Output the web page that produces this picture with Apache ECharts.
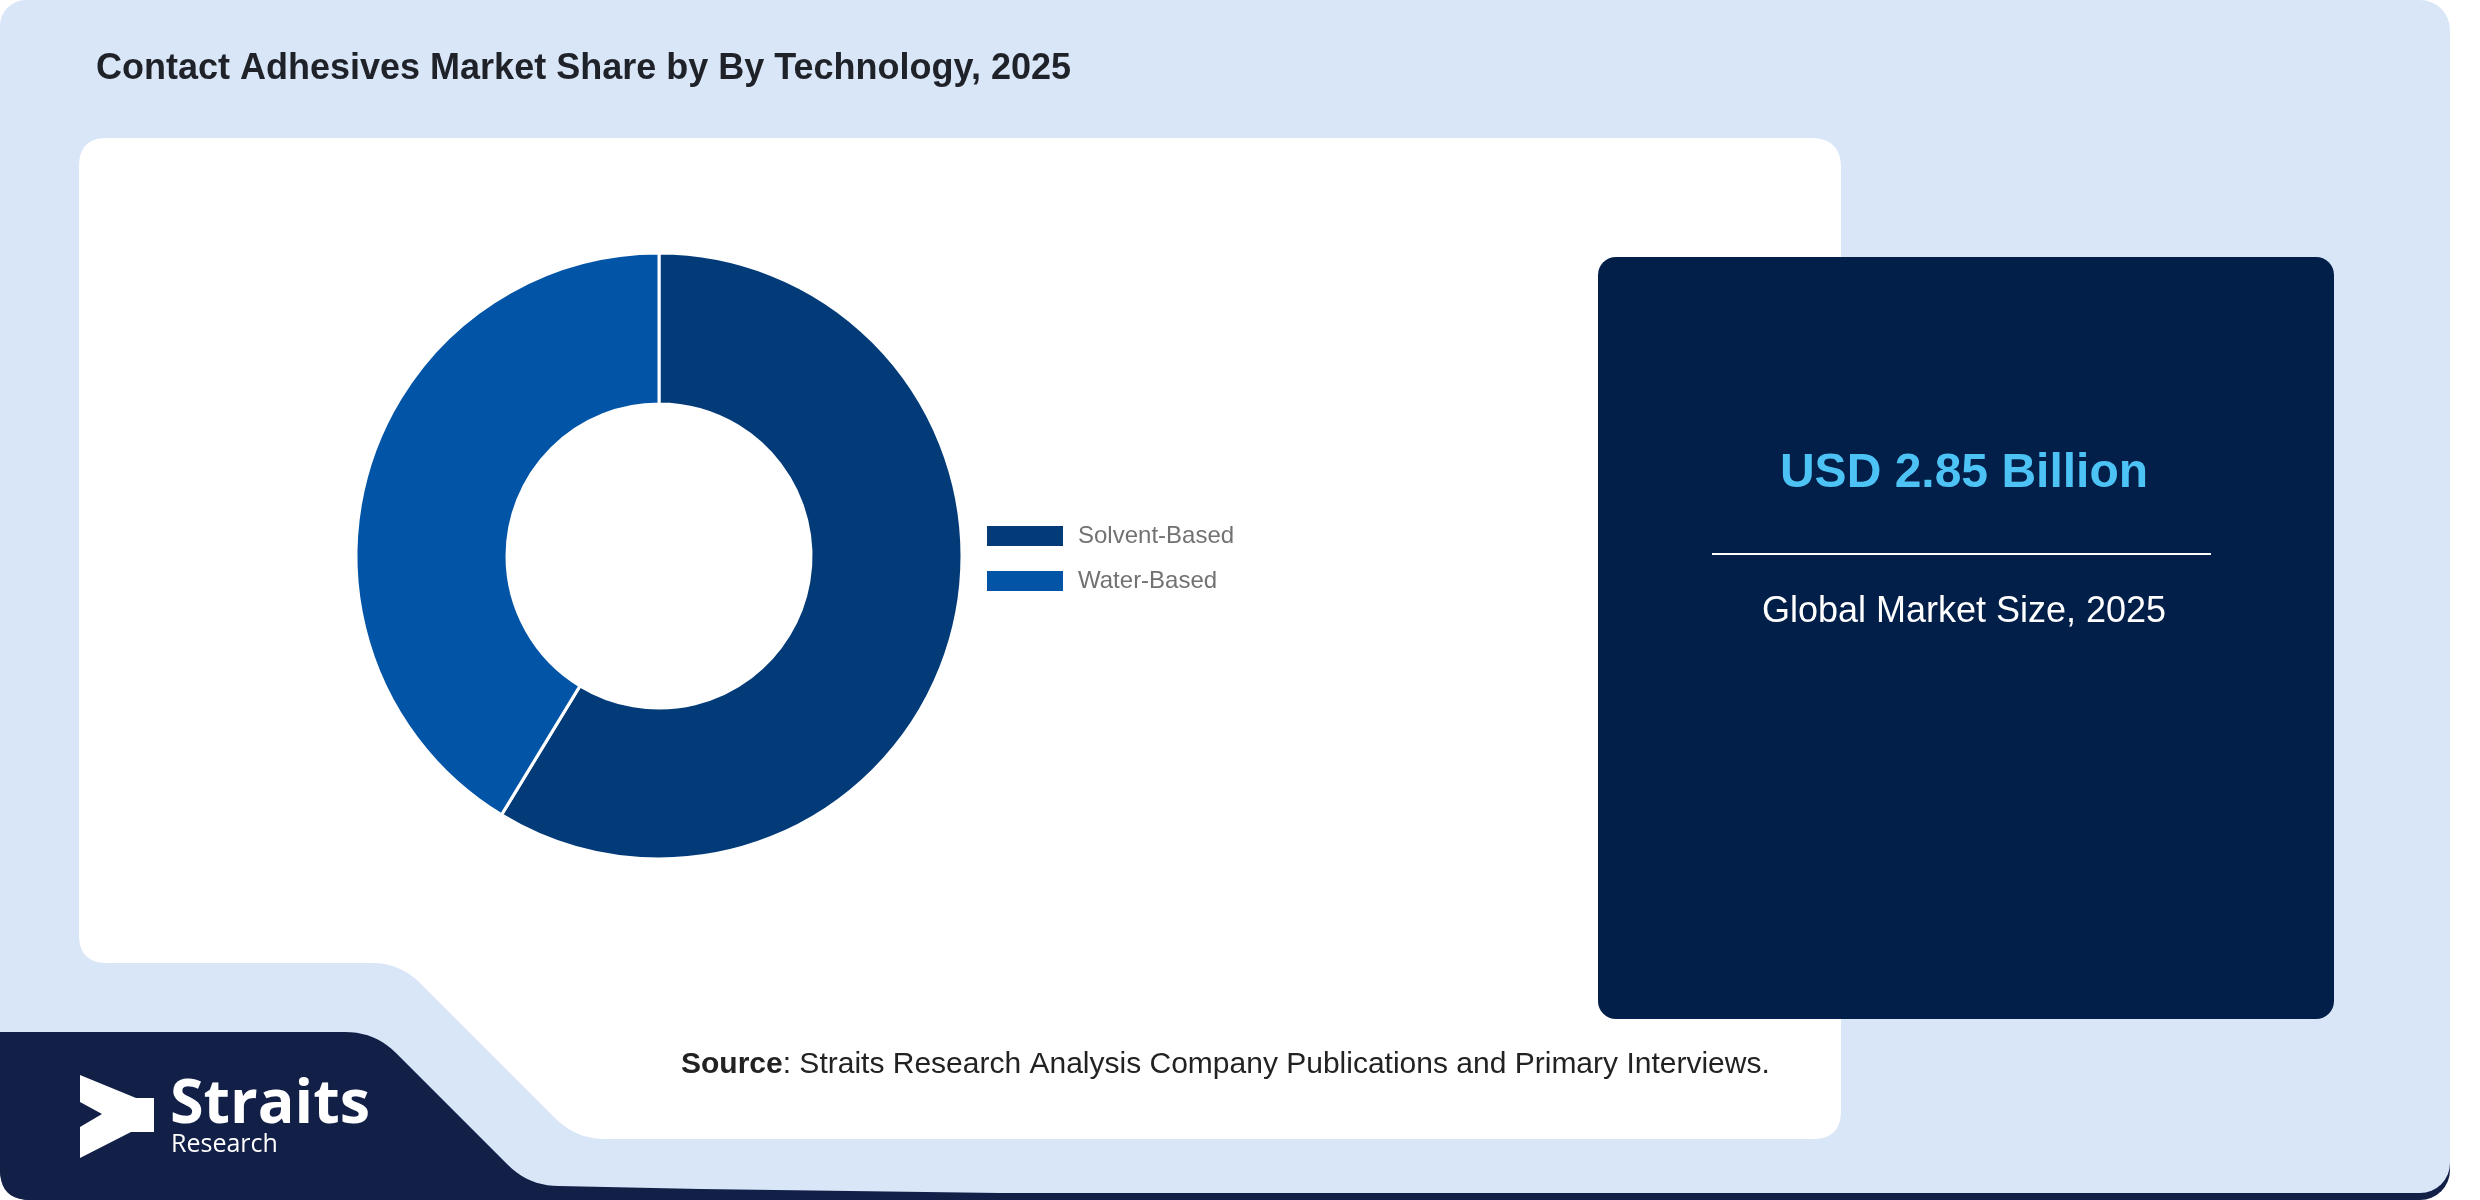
<!DOCTYPE html>
<html>
<head>
<meta charset="utf-8">
<script src="https://cdn.jsdelivr.net/npm/echarts@6/dist/echarts.min.js"></script>
<style>
  html, body { margin: 0; padding: 0; background: #ffffff; }
  #chart { width: 2480px; height: 1200px; }
</style>
</head>
<body>
<div id="chart"></div>
<script>
// ---- data ----
const categories = ['Solvent-Based', 'Water-Based'];
const shares = [58.7, 41.3];
const sliceColors = ['#033b79', '#0254a6'];
const chartTitle = 'Contact Adhesives Market Share by By Technology, 2025';
const marketValue = 'USD 2.85 Billion';
const marketLabel = 'Global Market Size, 2025';
const sourceLabel = 'Source';
const sourceText = ': Straits Research Analysis Company Publications and Primary Interviews.';

const FONT = '"Liberation Sans", Arial, Helvetica, sans-serif';

// convert a simple M/L/Q path description into polygon points (decorative shapes)
function pathToPoints(cmds) {
  const pts = [];
  let cur = null;
  cmds.forEach(c => {
    if (c[0] === 'M' || c[0] === 'L') {
      cur = [c[1], c[2]];
      pts.push(cur);
    } else if (c[0] === 'Q') {
      const p0 = cur, cx = c[1], cy = c[2], ex = c[3], ey = c[4];
      for (let i = 1; i <= 10; i++) {
        const t = i / 10, u = 1 - t;
        pts.push([u * u * p0[0] + 2 * u * t * cx + t * t * ex, u * u * p0[1] + 2 * u * t * cy + t * t * ey]);
      }
      cur = [ex, ey];
    }
  });
  return pts;
}

const whitePanel = pathToPoints([
  ['M', 107, 138], ['L', 1811, 138], ['Q', 1841, 138, 1841, 168],
  ['L', 1841, 1111], ['Q', 1841, 1139, 1813, 1139],
  ['L', 605, 1139], ['Q', 576, 1139, 555, 1118],
  ['L', 420, 983], ['Q', 400, 963, 372, 963],
  ['L', 107, 963], ['Q', 79, 963, 79, 935],
  ['L', 79, 166], ['Q', 79, 138, 107, 138]
]);

const navyBlock = pathToPoints([
  ['M', 0, 1032], ['L', 345, 1032], ['Q', 375, 1032, 396, 1053],
  ['L', 508, 1165], ['Q', 529, 1186, 559, 1186],
  ['L', 700, 1189], ['L', 1000, 1193], ['L', 1000, 1200], ['L', 30, 1200], ['Q', 0, 1200, 0, 1170]
]);

const chevronPoints = [
  [80, 1075], [136, 1098], [154, 1098], [154, 1132], [131, 1132],
  [80, 1158], [80, 1127], [102, 1114], [80, 1102]
];

const chart = echarts.init(document.getElementById('chart'), null, { renderer: 'canvas' });

const option = {
  animation: false,
  backgroundColor: '#ffffff',
  graphic: [
    { type: 'rect', z: -10, shape: { x: 0, y: 1100, width: 2450, height: 100, r: [0, 0, 30, 30] },
      style: { fill: '#121f47' } },
    { type: 'rect', z: -9, shape: { x: 0, y: 0, width: 2450, height: 1193, r: [26, 30, 30, 30] },
      style: { fill: '#d9e6f8' } },
    { type: 'polygon', z: -8, shape: { points: whitePanel }, style: { fill: '#ffffff' } },
    { type: 'polygon', z: -7, shape: { points: navyBlock }, style: { fill: '#121f47' } },
    { type: 'polygon', z: -6, shape: { points: chevronPoints }, style: { fill: '#ffffff' } },
    { type: 'text', z: -6, style: { text: 'Straits', x: 170, y: 1106, fill: '#ffffff',
      font: '700 61px "Open Sans", "Noto Sans", sans-serif', verticalAlign: 'middle' } },
    { type: 'text', z: -6, style: { text: 'Research', x: 171, y: 1145, fill: '#ffffff',
      font: '400 25px "Open Sans", "Noto Sans", sans-serif', verticalAlign: 'middle' } },
    { type: 'text', z: 5, style: { text: chartTitle, x: 96, y: 69, fill: '#1f2329',
      font: 'bold 36px ' + FONT, verticalAlign: 'middle' } },
    { type: 'rect', z: -6, shape: { x: 1598, y: 257, width: 736, height: 762, r: 18 },
      style: { fill: '#011f48' } },
    { type: 'text', z: 5, style: { text: marketValue, x: 1964, y: 474, fill: '#4dc3f5',
      font: 'bold 48px ' + FONT, align: 'center', verticalAlign: 'middle' } },
    { type: 'line', z: 5, shape: { x1: 1712, y1: 554, x2: 2211, y2: 554 },
      style: { stroke: '#ffffff', lineWidth: 2 } },
    { type: 'text', z: 5, style: { text: marketLabel, x: 1964, y: 612, fill: '#ffffff',
      font: '36px ' + FONT, align: 'center', verticalAlign: 'middle' } },
    { type: 'text', z: 5, style: {
      text: '{b|' + sourceLabel + '}{r|' + sourceText + '}', x: 681, y: 1065,
      verticalAlign: 'middle',
      rich: {
        b: { fontFamily: FONT, fontSize: 30, fontWeight: 'bold', fill: '#222222' },
        r: { fontFamily: FONT, fontSize: 30, fill: '#222222' }
      } } }
  ],
  legend: {
    data: categories,
    orient: 'vertical',
    left: 982,
    top: 519,
    icon: 'rect',
    itemWidth: 76,
    itemHeight: 20,
    itemGap: 21,
    itemStyle: { borderWidth: 0 },
    selectedMode: false,
    textStyle: { fontFamily: FONT, fontSize: 24, color: '#727272', lineHeight: 20, padding: [0, 0, 0, 10] }
  },
  series: [{
    type: 'pie',
    center: [659, 556],
    radius: [152, 303],
    startAngle: 90,
    clockwise: true,
    silent: true,
    label: { show: false },
    labelLine: { show: false },
    itemStyle: { borderColor: '#ffffff', borderWidth: 3 },
    emphasis: { disabled: true },
    data: categories.map((name, i) => ({ name: name, value: shares[i], itemStyle: { color: sliceColors[i] } }))
  }]
};

chart.setOption(option);
</script>
</body>
</html>
